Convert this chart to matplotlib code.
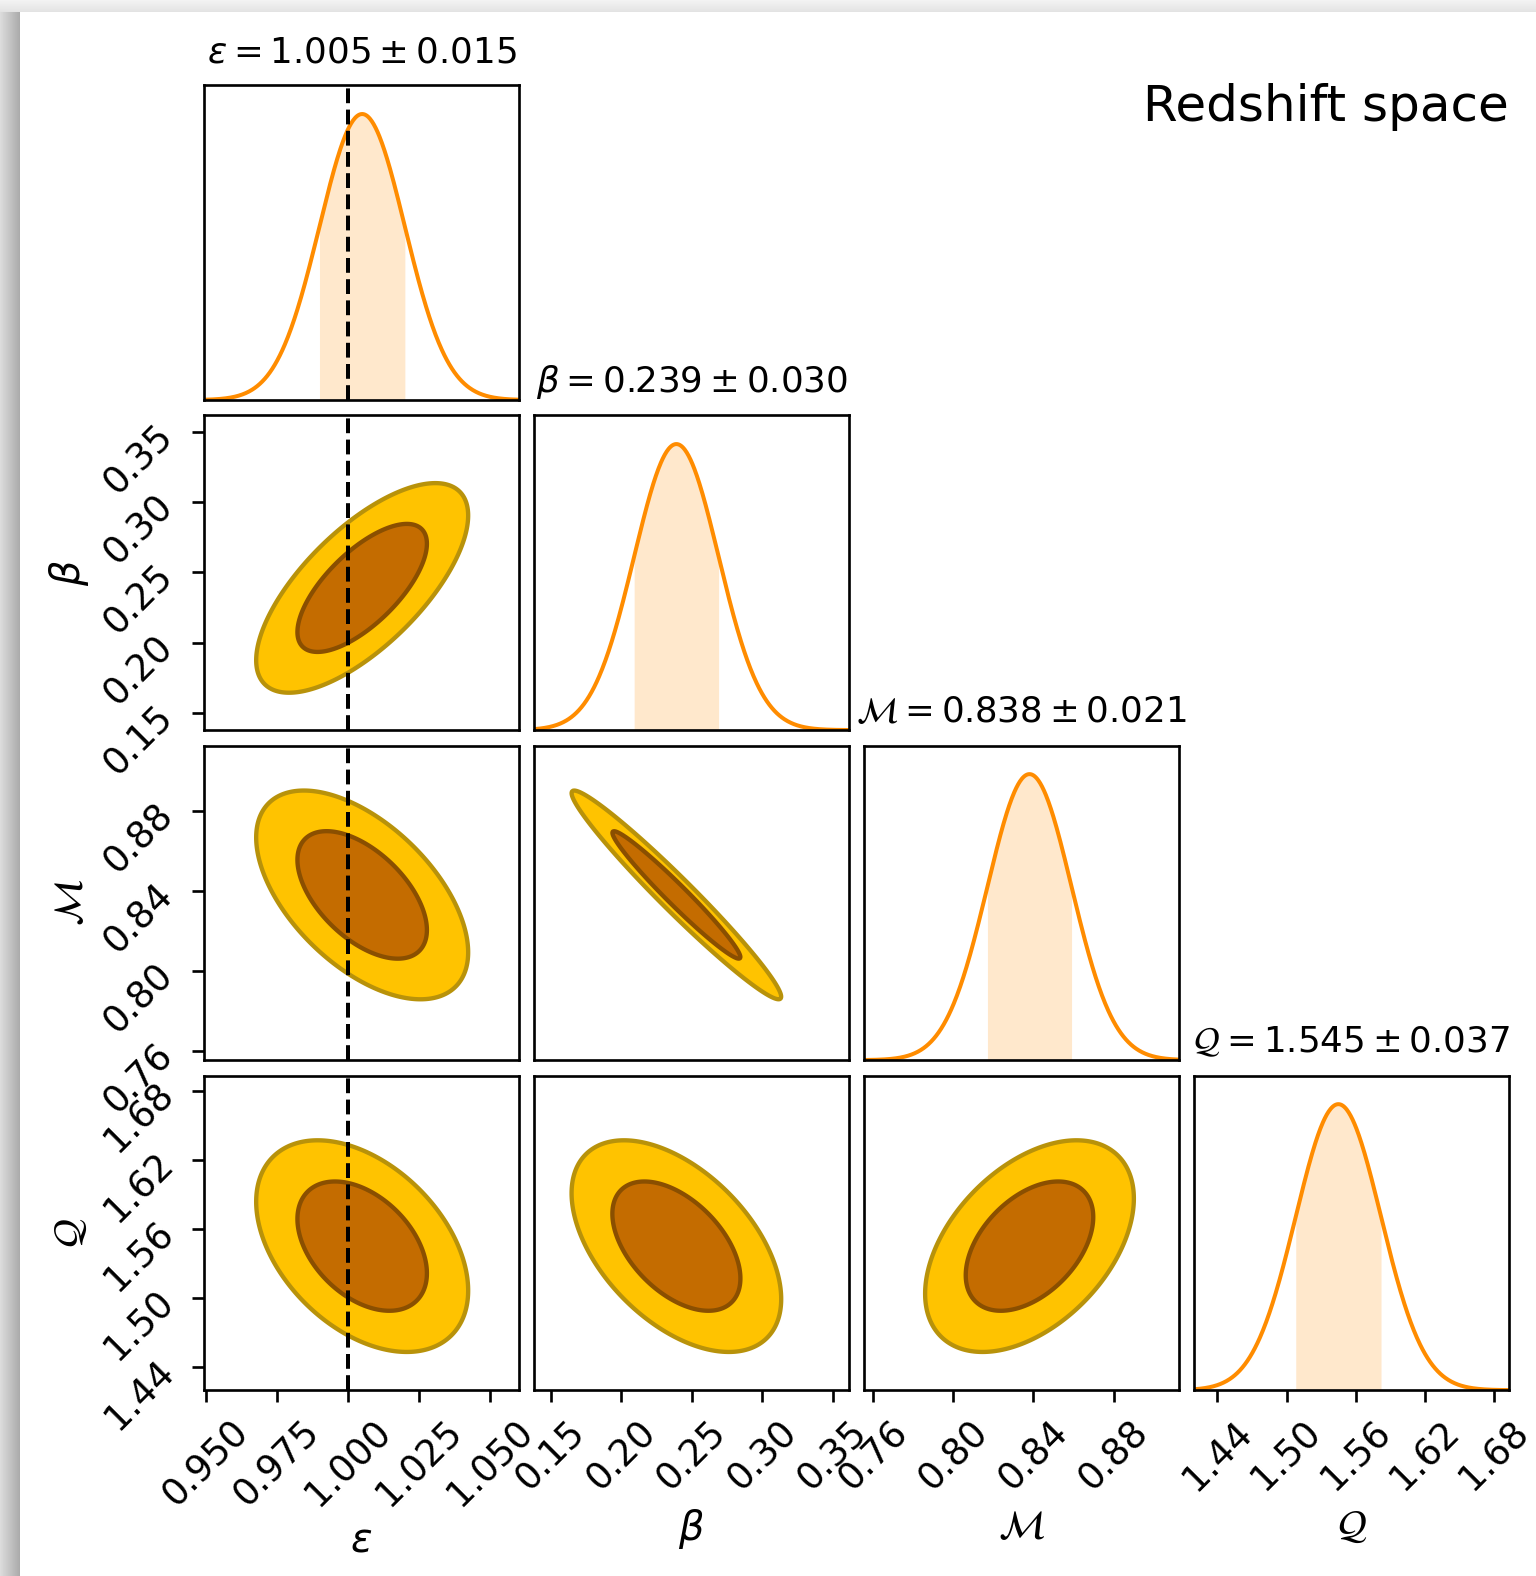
import numpy as np
import matplotlib
matplotlib.use("Agg")
import matplotlib.pyplot as plt
from matplotlib.ticker import FixedLocator, FixedFormatter

# parameter names (axis labels and titles)
labels = [r"$\varepsilon$", r"$\beta$", r"$\mathcal{M}$", r"$\mathcal{Q}$"]
title_syms = [r"\varepsilon", r"\beta", r"\mathcal{M}", r"\mathcal{Q}"]

# posterior summaries
means = [1.005, 0.239, 0.838, 1.545]
sigmas = [0.015, 0.030, 0.021, 0.037]

corr = {(1, 0): 0.69, (2, 0): -0.55, (2, 1): -0.975,
        (3, 0): -0.42, (3, 1): -0.50, (3, 2): 0.45}

# plotted range of each parameter
ranges = [(0.9495, 1.060), (0.138, 0.3615), (0.7555, 0.9126), (1.420, 1.693)]

ticks = [[0.950, 0.975, 1.000, 1.025, 1.050],
         [0.15, 0.20, 0.25, 0.30, 0.35],
         [0.76, 0.80, 0.84, 0.88],
         [1.44, 1.50, 1.56, 1.62, 1.68]]
tick_labels = [["0.950", "0.975", "1.000", "1.025", "1.050"],
               ["0.15", "0.20", "0.25", "0.30", "0.35"],
               ["0.76", "0.80", "0.84", "0.88"],
               ["1.44", "1.50", "1.56", "1.62", "1.68"]]

eps_truth = 1.0
contour_probs = [0.683, 0.954]
corner_text = "Redshift space"

ndim = len(means)
line_col = "darkorange"
fill_cols = ["#c46c00", "#ffc300"]   # inner, outer
edge_cols = ["#8a4f00", "#b8920a"]

W, H, DPI = 1536, 1576, 240
fig = plt.figure(figsize=(W / DPI, H / DPI), dpi=DPI)

# screenshot drop shadow round the figure
bg = fig.add_axes([0, 0, 1, 1], zorder=-10)
img = np.ones((H, W))
img[:12, :] = np.linspace(0.95, 0.89, 12)[:, None]
img[12:, :20] = np.linspace(0.86, 0.67, 20)[None, :]
bg.imshow(img, cmap="gray", vmin=0, vmax=1, aspect="auto",
          interpolation="nearest", extent=(0, W, H, 0))
bg.set_axis_off()

gs = fig.add_gridspec(ndim, ndim, left=0.1329, right=0.9824,
                      bottom=0.1179, top=0.9458, wspace=0.049, hspace=0.049)

chi2_levels = [-2 * np.log(1 - p) for p in contour_probs]


def style_axes(ax, i, j):
    ax.tick_params(direction="out", length=3.5, width=0.8, labelsize=11)
    for s in ax.spines.values():
        s.set_linewidth(0.8)
    ax.xaxis.set_major_locator(FixedLocator(ticks[j]))
    if i == ndim - 1:
        ax.xaxis.set_major_formatter(FixedFormatter(tick_labels[j]))
        for t in ax.get_xticklabels():
            t.set_rotation(45)
        ax.set_xlabel(labels[j], fontsize=12)
        ax.xaxis.set_label_coords(0.5, -0.415 if j == 0 else -0.37)
    else:
        ax.set_xticklabels([])
        ax.tick_params(axis="x", length=0)


for i in range(ndim):
    for j in range(i + 1):
        ax = fig.add_subplot(gs[i, j])
        if i == j:
            m, s = means[i], sigmas[i]
            x = np.linspace(ranges[i][0], ranges[i][1], 500)
            y = np.exp(-0.5 * ((x - m) / s) ** 2)
            xs = np.linspace(m - s, m + s, 200)
            ax.fill_between(xs, np.exp(-0.5 * ((xs - m) / s) ** 2), 0,
                            color=line_col, alpha=0.2, lw=0)
            ax.plot(x, y, color=line_col, lw=1.2)
            ax.set_ylim(0, 1.1)
            ax.set_yticks([])
            ax.set_title(r"$%s = %.3f \pm %.3f$" % (title_syms[i], m, s),
                         fontsize=10.7, pad=7)
        else:
            mx, sx = means[j], sigmas[j]
            my, sy = means[i], sigmas[i]
            r = corr[(i, j)]
            gx = np.linspace(ranges[j][0], ranges[j][1], 300)
            gy = np.linspace(ranges[i][0], ranges[i][1], 300)
            X, Y = np.meshgrid(gx, gy)
            u = (X - mx) / sx
            v = (Y - my) / sy
            d2 = (u ** 2 - 2 * r * u * v + v ** 2) / (1 - r ** 2)
            ax.contourf(X, Y, d2, levels=[0] + chi2_levels, colors=fill_cols)
            ax.contour(X, Y, d2, levels=chi2_levels, colors=edge_cols,
                       linewidths=1.3)
            ax.set_ylim(ranges[i])
            if j == 0:
                ax.yaxis.set_major_locator(FixedLocator(ticks[i]))
                ax.yaxis.set_major_formatter(FixedFormatter(tick_labels[i]))
                for t in ax.get_yticklabels():
                    t.set_rotation(45)
                ax.set_ylabel(labels[i], fontsize=12)
                ax.yaxis.set_label_coords(-0.36, 0.5)
            else:
                ax.set_yticks([])
        ax.set_xlim(ranges[j])
        if j == 0:
            ax.axvline(eps_truth, color="k", ls="--", lw=1.2)
        style_axes(ax, i, j)

fig.text(0.9824, 1 - 107 / H, corner_text, ha="right", va="center", fontsize=15)

fig.savefig("out.png", dpi=DPI)
